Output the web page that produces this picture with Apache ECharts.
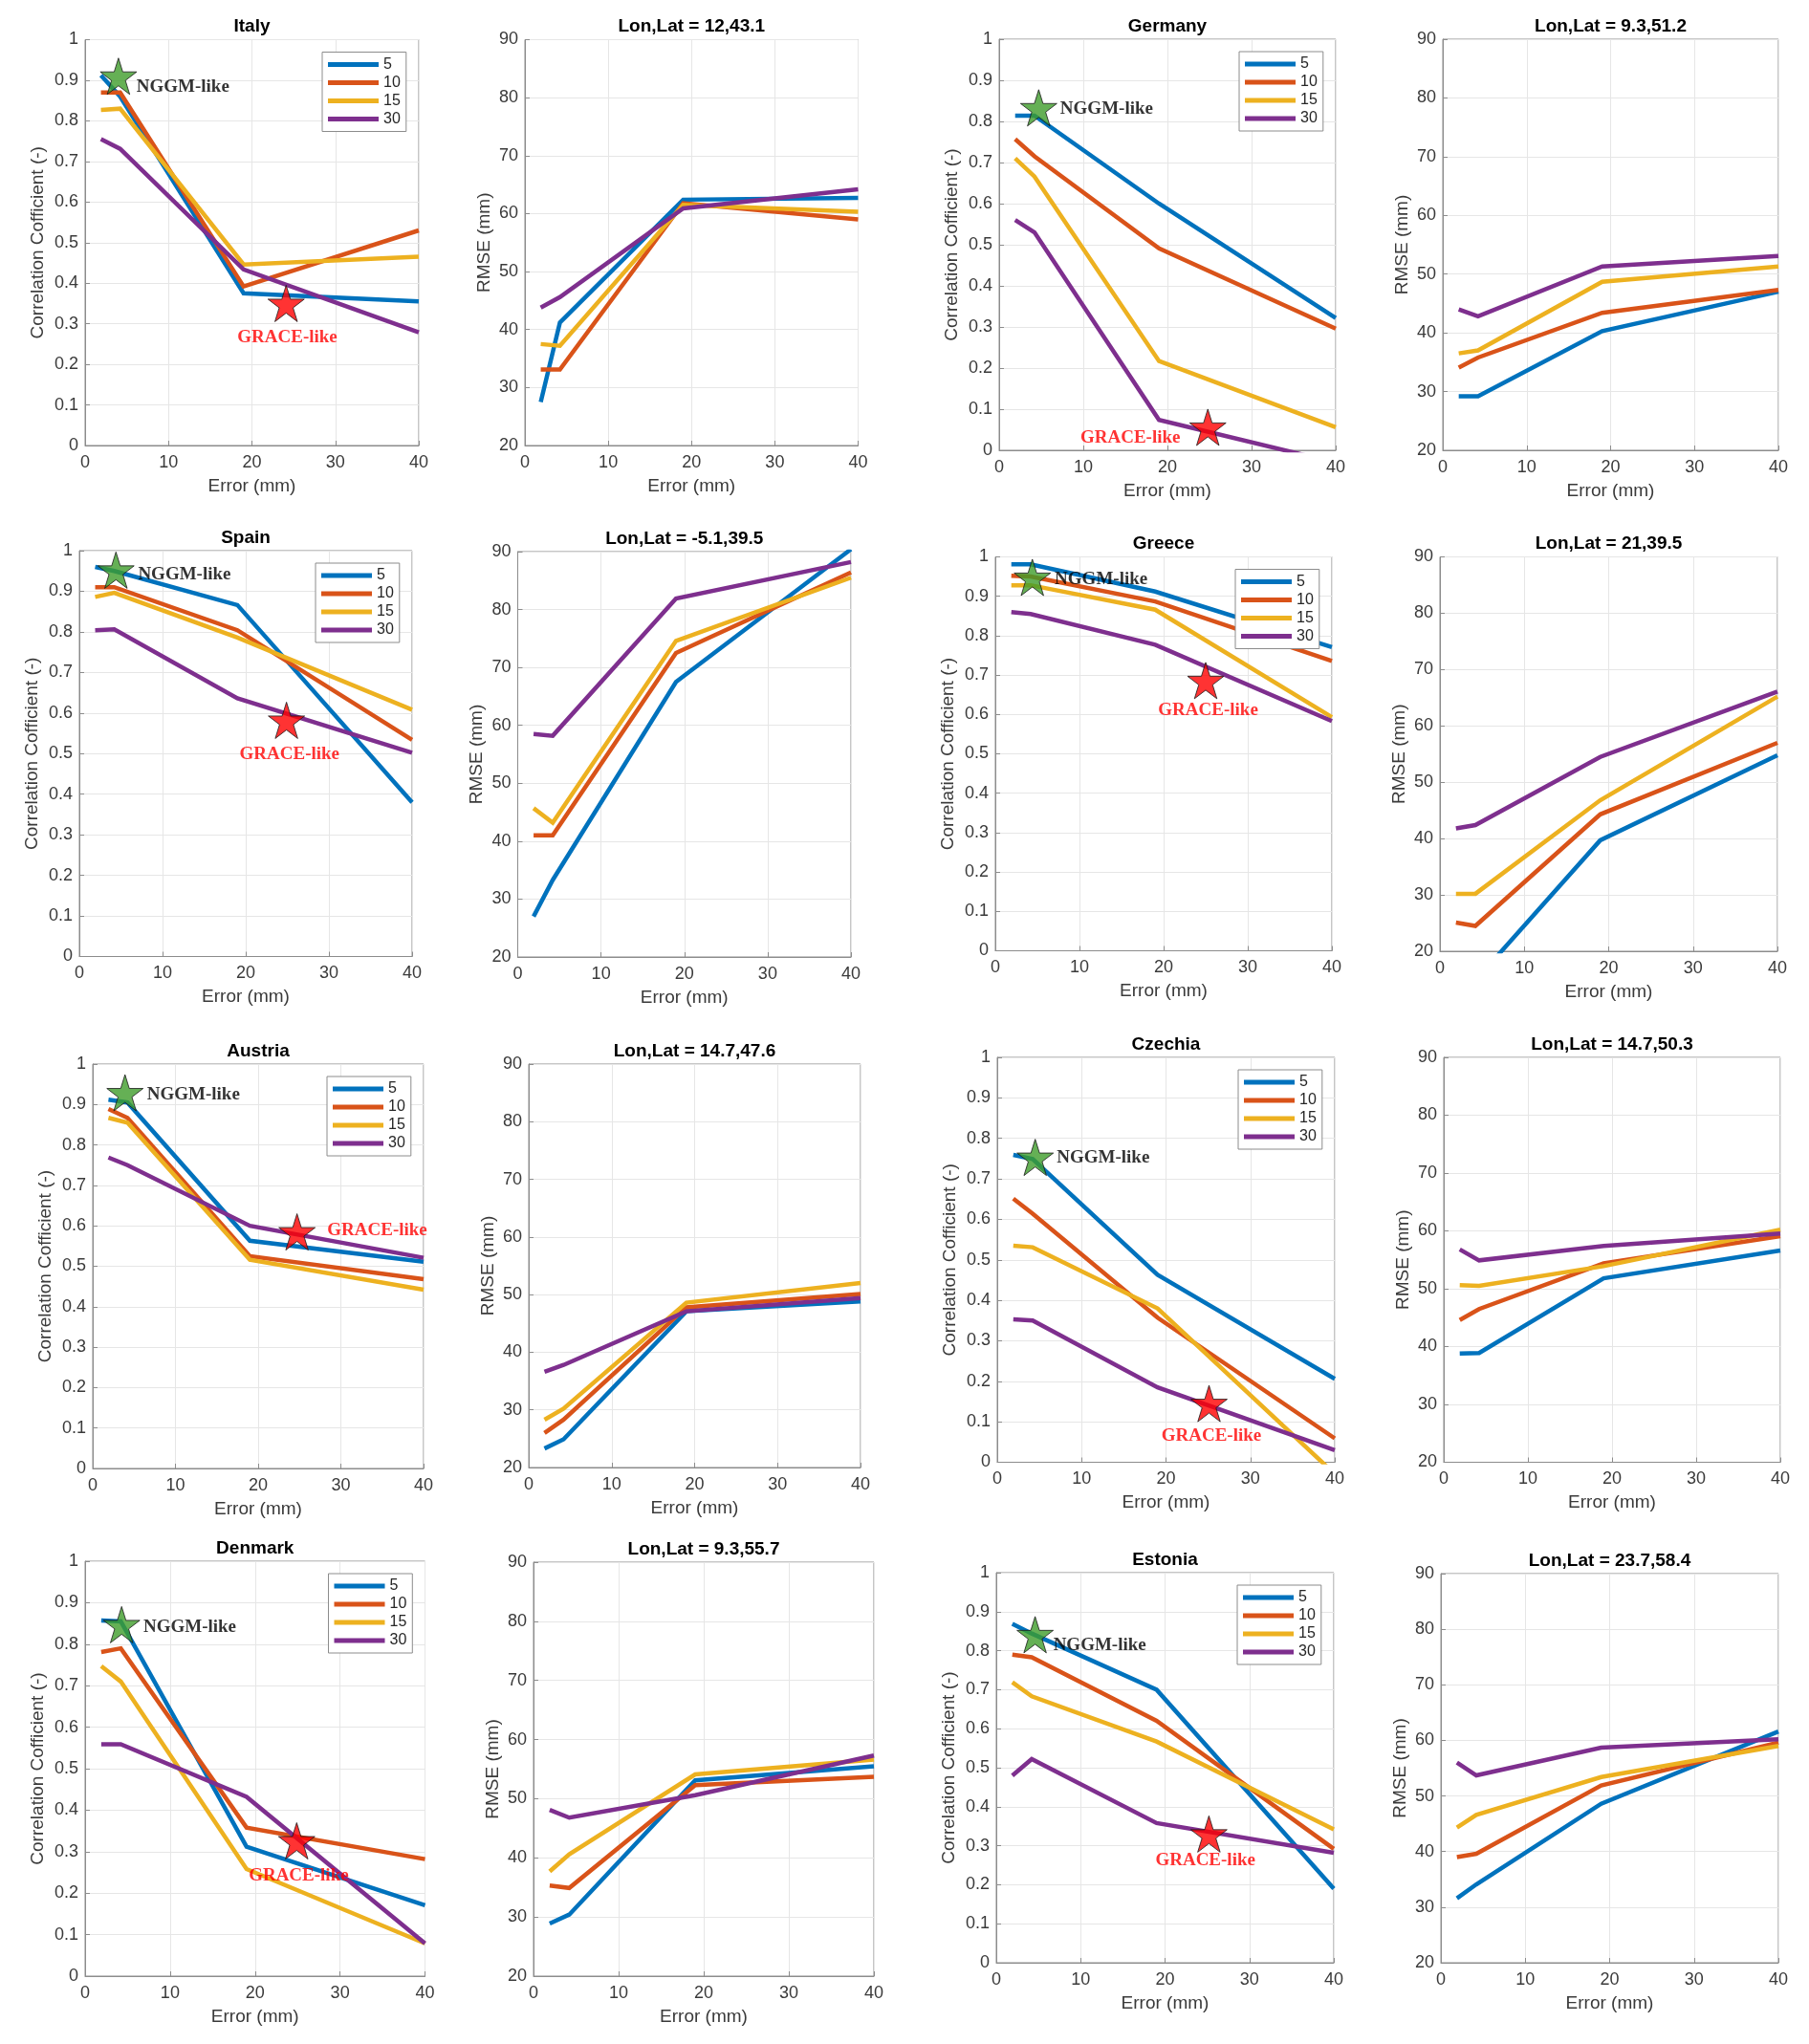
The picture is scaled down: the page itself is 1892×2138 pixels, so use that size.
<!DOCTYPE html>
<html><head><meta charset="utf-8">
<script src="https://cdn.jsdelivr.net/npm/echarts@6/dist/echarts.min.js"></script>
<style>html,body{margin:0;padding:0;background:#fff}#chart{width:1892px;height:2138px}</style>
</head><body><div id="chart"></div>
<script>
// x positions (Error, mm) shared by every curve
const errorX = [1.9, 4.2, 19, 40];
const seriesNames = ['5', '10', '15', '30'];
const corrTicks = { min: 0, max: 1, step: 0.1 };
const rmseTicks = { min: 20, max: 90, step: 10 };
const errTicks = { min: 0, max: 40, step: 10 };

// rows: series 5, 10, 15, 30 ; columns: errorX
const italyCorr = [[0.912, 0.86, 0.375, 0.355], [0.87, 0.87, 0.392, 0.53], [0.827, 0.83, 0.446, 0.465], [0.755, 0.731, 0.434, 0.279]];
const italyRmse = [[27.5, 41.2, 62.4, 62.7], [33.1, 33.1, 61.8, 59.0], [37.5, 37.2, 61.5, 60.3], [43.8, 45.6, 60.9, 64.2]];
const germanyCorr = [[0.814, 0.814, 0.60, 0.322], [0.757, 0.715, 0.491, 0.296], [0.71, 0.666, 0.217, 0.056], [0.56, 0.53, 0.074, -0.03]];
const germanyRmse = [[29.2, 29.2, 40.3, 47.0], [34.1, 35.8, 43.4, 47.3], [36.5, 37.0, 48.7, 51.3], [44.0, 42.8, 51.3, 53.1]];
const spainCorr = [[0.96, 0.95, 0.866, 0.38], [0.91, 0.91, 0.804, 0.534], [0.886, 0.896, 0.786, 0.608], [0.804, 0.806, 0.636, 0.502]];
const spainRmse = [[27.0, 33.3, 67.5, 90.4], [41.0, 41.0, 72.5, 86.4], [45.7, 43.2, 74.6, 85.5], [58.5, 58.2, 81.9, 88.2]];
const greeceCorr = [[0.981, 0.981, 0.912, 0.771], [0.952, 0.95, 0.887, 0.736], [0.928, 0.928, 0.866, 0.593], [0.86, 0.855, 0.777, 0.583]];
const greeceRmse = [[13.5, 14.8, 39.7, 54.8], [25.1, 24.5, 44.3, 57.0], [30.2, 30.2, 46.8, 65.2], [41.8, 42.4, 54.5, 66.1]];
const austriaCorr = [[0.912, 0.905, 0.563, 0.511], [0.889, 0.867, 0.525, 0.468], [0.867, 0.855, 0.516, 0.442], [0.769, 0.75, 0.60, 0.521]];
const austriaRmse = [[23.3, 24.9, 47.1, 48.8], [26.0, 28.3, 47.8, 50.1], [28.3, 30.2, 48.6, 52.0], [36.6, 37.8, 47.1, 49.4]];
const czechiaCorr = [[0.759, 0.749, 0.463, 0.206], [0.651, 0.614, 0.357, 0.059], [0.535, 0.531, 0.38, -0.029], [0.353, 0.35, 0.185, 0.03]];
const czechiaRmse = [[38.8, 38.9, 51.8, 56.6], [44.6, 46.5, 54.4, 59.1], [50.6, 50.5, 53.9, 60.2], [56.8, 54.9, 57.4, 59.55]];
const denmarkCorr = [[0.857, 0.855, 0.312, 0.171], [0.781, 0.79, 0.358, 0.282], [0.747, 0.71, 0.258, 0.079], [0.559, 0.559, 0.432, 0.079]];
const denmarkRmse = [[28.9, 30.4, 53.1, 55.5], [35.3, 34.9, 52.3, 53.7], [37.7, 40.6, 54.1, 56.6], [48.1, 46.8, 50.6, 57.3]];
const estoniaCorr = [[0.869, 0.844, 0.70, 0.19], [0.79, 0.783, 0.62, 0.292], [0.719, 0.683, 0.567, 0.342], [0.48, 0.522, 0.358, 0.282]];
const estoniaRmse = [[31.6, 34.1, 48.6, 61.6], [39.0, 39.6, 51.9, 59.6], [44.3, 46.6, 53.4, 59.0], [56.0, 53.7, 58.7, 60.2]];

// stars: [NGGM-like point, GRACE-like point]
const italyStars = [[4.0, 0.91], [24.1, 0.35]];
const germanyStars = [[4.7, 0.833], [24.8, 0.056]];
const spainStars = [[4.4, 0.952], [24.9, 0.582]];
const greeceStars = [[4.4, 0.948], [25.0, 0.686]];
const austriaStars = [[3.9, 0.929], [24.7, 0.585]];
const czechiaStars = [[4.5, 0.753], [25.1, 0.145]];
const denmarkStars = [[4.3, 0.847], [24.9, 0.326]];
const estoniaStars = [[4.6, 0.841], [25.2, 0.33]];

// annotation anchors (left edge, middle) in data units: [NGGM-like, GRACE-like]
const italyNotes = [[6.1, 0.882], [18.2, 0.267]];
const germanyNotes = [[7.2, 0.829], [9.6, 0.031]];
const spainNotes = [[7.0, 0.942], [19.2, 0.498]];
const greeceNotes = [[7.0, 0.942], [19.3, 0.61]];
const austriaNotes = [[6.5, 0.925], [28.3, 0.589]];
const czechiaNotes = [[7.0, 0.751], [19.4, 0.065]];
const denmarkNotes = [[6.8, 0.841], [19.2, 0.242]];
const estoniaNotes = [[6.7, 0.814], [18.8, 0.262]];

const colors = ['#0072BD', '#D95319', '#EDB120', '#7E2F8E'];
const SANS = '"Liberation Sans", Arial, Helvetica, sans-serif';
const SERIF = '"Liberation Serif", "Times New Roman", serif';
const STAR = 'path://M50,0 L61.2,34.5 L97.6,34.5 L68.2,55.9 L79.4,90.5 L50,69.1 L20.6,90.5 L31.8,55.9 L2.4,34.5 L38.8,34.5 Z';

const panels = [
  { title: 'Italy', kind: 'corr', data: italyCorr, stars: italyStars, notes: italyNotes, box: [89, 41.5, 349, 424.5] },
  { title: 'Lon,Lat = 12,43.1', kind: 'rmse', data: italyRmse, box: [549, 41.5, 348.5, 424.5] },
  { title: 'Germany', kind: 'corr', data: germanyCorr, stars: germanyStars, notes: germanyNotes, box: [1045, 41, 352, 430] },
  { title: 'Lon,Lat = 9.3,51.2', kind: 'rmse', data: germanyRmse, box: [1509, 41, 351, 430] },
  { title: 'Spain', kind: 'corr', data: spainCorr, stars: spainStars, notes: spainNotes, box: [83, 576, 348, 424.5] },
  { title: 'Lon,Lat = -5.1,39.5', kind: 'rmse', data: spainRmse, box: [541.5, 577, 348.5, 424] },
  { title: 'Greece', kind: 'corr', data: greeceCorr, stars: greeceStars, notes: greeceNotes, box: [1041, 582.5, 352, 412] },
  { title: 'Lon,Lat = 21,39.5', kind: 'rmse', data: greeceRmse, box: [1506, 582.5, 353, 412.5] },
  { title: 'Austria', kind: 'corr', data: austriaCorr, stars: austriaStars, notes: austriaNotes, box: [97, 1113, 346, 423] },
  { title: 'Lon,Lat = 14.7,47.6', kind: 'rmse', data: austriaRmse, box: [553, 1113, 347, 422] },
  { title: 'Czechia', kind: 'corr', data: czechiaCorr, stars: czechiaStars, notes: czechiaNotes, box: [1043, 1106, 353, 423.5] },
  { title: 'Lon,Lat = 14.7,50.3', kind: 'rmse', data: czechiaRmse, box: [1510, 1106, 352, 423.5] },
  { title: 'Denmark', kind: 'corr', data: denmarkCorr, stars: denmarkStars, notes: denmarkNotes, box: [89, 1633, 355.5, 434] },
  { title: 'Lon,Lat = 9.3,55.7', kind: 'rmse', data: denmarkRmse, box: [558, 1634, 356, 433] },
  { title: 'Estonia', kind: 'corr', data: estoniaCorr, stars: estoniaStars, notes: estoniaNotes, box: [1042, 1645, 353, 408] },
  { title: 'Lon,Lat = 23.7,58.4', kind: 'rmse', data: estoniaRmse, box: [1507, 1646, 353, 407] }
];

const AX = '#8c8c8c', TXT = '#3a3a3a';
const grid = [], xAxis = [], yAxis = [], series = [], legend = [], graphic = [];

panels.forEach((p, i) => {
  const [L, T, W, H] = p.box;
  const corr = p.kind === 'corr';
  const yt = corr ? corrTicks : rmseTicks;
  grid.push({ left: L, top: T, width: W, height: H, show: true, borderColor: AX, borderWidth: 1, backgroundColor: '#fff' });
  const common = {
    gridIndex: i, type: 'value', nameLocation: 'middle',
    nameTextStyle: { fontSize: 19, color: TXT, fontFamily: SANS },
    axisLine: { show: true, onZero: false, lineStyle: { color: AX, width: 1 } },
    axisTick: { show: true, inside: true, length: 5, lineStyle: { color: AX } },
    splitLine: { show: true, lineStyle: { color: '#e6e6e6', width: 1 } }
  };
  xAxis.push(Object.assign({}, common, {
    min: errTicks.min, max: errTicks.max, interval: errTicks.step,
    name: 'Error (mm)', nameGap: 33,
    axisLabel: { fontSize: 18, color: TXT, fontFamily: SANS, margin: 9 }
  }));
  yAxis.push(Object.assign({}, common, {
    min: yt.min, max: yt.max, interval: yt.step,
    name: corr ? 'Correlation Cofficient (-)' : 'RMSE (mm)', nameGap: corr ? 40 : 33,
    axisLabel: { fontSize: 18, color: TXT, fontFamily: SANS, margin: 7 }
  }));
  graphic.push({
    type: 'text', x: L + W / 2, y: T - 4, silent: true,
    style: { text: p.title, textAlign: 'center', textVerticalAlign: 'bottom', font: 'bold 19px ' + SANS, fill: '#000' }
  });
  p.data.forEach((vals, k) => {
    series.push({
      type: 'line', name: seriesNames[k], xAxisIndex: i, yAxisIndex: i,
      data: errorX.map((x, j) => [x, vals[j]]),
      showSymbol: false, symbol: 'none', clip: true, silent: true, animation: false,
      lineStyle: { width: 4.5, color: colors[k], cap: 'butt', join: 'miter' },
      itemStyle: { color: colors[k] }, z: 2 + k
    });
  });
  if (corr) {
    series.push({
      type: 'scatter', xAxisIndex: i, yAxisIndex: i, silent: true, animation: false, z: 10,
      symbol: STAR, symbolSize: 38, clip: false,
      data: [
        { value: p.stars[0], itemStyle: { color: '#3f9c2a', borderColor: '#1a1a1a', borderWidth: 1 } },
        { value: p.stars[1], itemStyle: { color: '#ff0000', borderColor: '#1a1a1a', borderWidth: 1 } }
      ]
    });
    series.push({
      type: 'scatter', xAxisIndex: i, yAxisIndex: i, silent: true, animation: false, z: 11,
      symbol: 'circle', symbolSize: 1, clip: false, itemStyle: { color: 'rgba(0,0,0,0)' },
      label: { show: true, position: 'right', distance: 0, formatter: '{b}', fontFamily: SERIF, fontWeight: 'bold', fontSize: 19 },
      data: [
        { value: p.notes[0], name: 'NGGM-like', label: { color: '#000' } },
        { value: p.notes[1], name: 'GRACE-like', label: { color: '#ff0000' } }
      ]
    });
    legend.push({
      data: seriesNames, orient: 'vertical', left: L + W - 14 - 87, top: T + 13,
      icon: 'rect', itemWidth: 53, itemHeight: 5, itemGap: 3, padding: [5, 6, 5, 6],
      borderColor: AX, borderWidth: 1, backgroundColor: '#fff', selectedMode: false,
      textStyle: { fontSize: 16, color: '#262626', fontFamily: SANS }
    });
  }
});

const chart = echarts.init(document.getElementById('chart'), null, { renderer: 'canvas' });
chart.setOption({
  backgroundColor: '#fff', animation: false,
  grid, xAxis, yAxis, series, legend, graphic
});
</script>
</body></html>
